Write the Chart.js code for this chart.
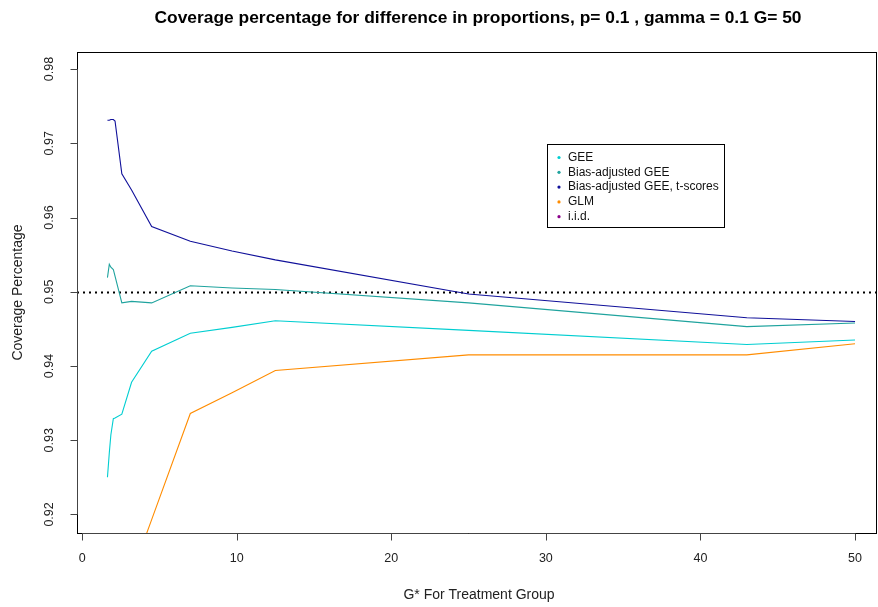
<!DOCTYPE html>
<html>
<head>
<meta charset="utf-8">
<script src="https://cdn.jsdelivr.net/npm/chart.js@4/dist/chart.umd.min.js"></script>
<style>
  html, body { margin: 0; padding: 0; background: #fff; }
  #wrap { width: 878px; height: 607px; position: relative; }
</style>
</head>
<body>
<div id="wrap"><canvas id="chart"></canvas></div>
<script>
// G* values (x) shared by all series
const gStar = [1.64, 1.76, 1.86, 2.02, 2.13, 2.57, 3.2, 4.5, 7, 9.7, 12.5, 25, 43, 50];

// coverage per method
const geeValues = [0.9250, 0.9283, 0.9307, 0.9329, 0.9330, 0.9335, 0.9378, 0.9420, 0.9444, 0.9452, 0.9461, 0.9448, 0.9429, 0.9435];
const biasAdjValues = [0.9519, 0.9537, 0.9533, 0.9530, 0.9521, 0.9485, 0.9487, 0.9485, 0.9508, 0.9505, 0.9503, 0.9485, 0.9453, 0.9458];
const biasAdjTValues = [0.9731, 0.9731, 0.9732, 0.9732, 0.9730, 0.9659, 0.9637, 0.9588, 0.9568, 0.9555, 0.9543, 0.9497, 0.9465, 0.9460];
const glmValues = [null, null, null, null, null, null, 0.9119, 0.9193, 0.9336, 0.9364, 0.9394, 0.9415, 0.9415, 0.9430];
const iidValues = []; // nothing of it shows inside the plotted range

const seriesNames = ["GEE", "Bias-adjusted GEE", "Bias-adjusted GEE, t-scores", "GLM", "i.i.d."];
const seriesColors = ["#00CED1", "#1FA39E", "#10109A", "#FF8C00", "#8B008B"];

const xTicks = [0, 10, 20, 30, 40, 50];
const yTicks = [0.92, 0.93, 0.94, 0.95, 0.96, 0.97, 0.98];
const refLevel = 0.95;

const titleText = "Coverage percentage for difference in proportions, p= 0.1 , gamma = 0.1 G= 50";
const xTitle = "G* For Treatment Group";
const yTitle = "Coverage Percentage";

function toPoints(vals) {
  return vals.map((v, i) => ({ x: gStar[i], y: v }));
}

const allValues = [geeValues, biasAdjValues, biasAdjTValues, glmValues, iidValues];

const datasets = allValues.map((vals, i) => ({
  label: seriesNames[i],
  data: toPoints(vals),
  borderColor: seriesColors[i],
  backgroundColor: seriesColors[i],
  borderWidth: 1.1,
  pointRadius: 0,
  tension: 0,
  spanGaps: false,
}));

// R-style frame, axes, reference line and legend
const rStyle = {
  id: "rStyle",
  beforeDatasetsDraw(chart) {
    const { ctx, chartArea: a, scales: { y } } = chart;
    const yy = Math.round(y.getPixelForValue(refLevel)) + 0.5;
    ctx.save();
    ctx.strokeStyle = "#000";
    ctx.lineWidth = 2;
    ctx.setLineDash([2, 4]);
    ctx.beginPath();
    ctx.moveTo(a.left, yy);
    ctx.lineTo(a.right, yy);
    ctx.stroke();
    ctx.restore();
  },
  afterDraw(chart) {
    const { ctx, chartArea: a, scales: { x, y } } = chart;
    ctx.save();

    // box
    ctx.strokeStyle = "#000";
    ctx.lineWidth = 1;
    ctx.strokeRect(Math.round(a.left) + 0.5, Math.round(a.top) + 0.5,
      Math.round(a.right - a.left) - 1, Math.round(a.bottom - a.top));

    // x axis
    const bottom = Math.round(a.bottom) + 0.5;
    ctx.strokeStyle = "#444";
    ctx.beginPath();
    ctx.moveTo(x.getPixelForValue(xTicks[0]), bottom);
    ctx.lineTo(x.getPixelForValue(xTicks[xTicks.length - 1]), bottom);
    xTicks.forEach((t) => {
      const px = Math.round(x.getPixelForValue(t)) + 0.5;
      ctx.moveTo(px, bottom);
      ctx.lineTo(px, bottom + 7);
    });
    ctx.stroke();

    ctx.fillStyle = "#222";
    ctx.font = "12.5px 'Liberation Sans', Arial, sans-serif";
    ctx.textAlign = "center";
    ctx.textBaseline = "middle";
    xTicks.forEach((t) => {
      ctx.fillText(String(t), x.getPixelForValue(t), 559);
    });

    // y axis
    const left = Math.round(a.left) + 0.5;
    ctx.beginPath();
    ctx.moveTo(left, y.getPixelForValue(yTicks[0]));
    ctx.lineTo(left, y.getPixelForValue(yTicks[yTicks.length - 1]));
    yTicks.forEach((t) => {
      const py = Math.round(y.getPixelForValue(t)) + 0.5;
      ctx.moveTo(left, py);
      ctx.lineTo(left - 7, py);
    });
    ctx.stroke();

    yTicks.forEach((t) => {
      ctx.save();
      ctx.translate(50, y.getPixelForValue(t));
      ctx.rotate(-Math.PI / 2);
      ctx.fillText(t.toFixed(2), 0, 0);
      ctx.restore();
    });

    // axis titles
    ctx.font = "14px 'Liberation Sans', Arial, sans-serif";
    ctx.fillText(xTitle, (a.left + a.right) / 2 + 2, 595);
    ctx.save();
    ctx.translate(18, (a.top + a.bottom) / 2);
    ctx.rotate(-Math.PI / 2);
    ctx.fillText(yTitle, 0, 0);
    ctx.restore();

    // title
    ctx.fillStyle = "#000";
    ctx.font = "bold 17.4px 'Liberation Sans', Arial, sans-serif";
    ctx.fillText(titleText, 478, 18);

    // legend
    const lx = 547.5, ly = 144.5, lw = 177, lh = 83;
    ctx.fillStyle = "#fff";
    ctx.fillRect(lx, ly, lw, lh);
    ctx.strokeStyle = "#000";
    ctx.lineWidth = 1;
    ctx.strokeRect(lx, ly, lw, lh);
    ctx.font = "12px 'Liberation Sans', Arial, sans-serif";
    ctx.textAlign = "left";
    chart.data.datasets.forEach((ds, i) => {
      const rowY = 157.5 + i * 14.8;
      ctx.fillStyle = ds.borderColor;
      ctx.beginPath();
      ctx.arc(559, rowY, 1.6, 0, Math.PI * 2);
      ctx.fill();
      ctx.fillStyle = "#111";
      ctx.fillText(ds.label, 568, rowY);
    });

    ctx.restore();
  },
};

new Chart(document.getElementById("chart"), {
  type: "line",
  data: { datasets },
  options: {
    responsive: true,
    maintainAspectRatio: false,
    animation: false,
    layout: { padding: { left: 77, right: 1, top: 52, bottom: 74 } },
    plugins: { legend: { display: false }, tooltip: { enabled: false }, title: { display: false } },
    scales: {
      x: { type: "linear", min: -0.33, max: 51.42, display: false },
      y: { type: "linear", min: 0.9175, max: 0.9823, display: false },
    },
  },
  plugins: [rStyle],
});
</script>
</body>
</html>
